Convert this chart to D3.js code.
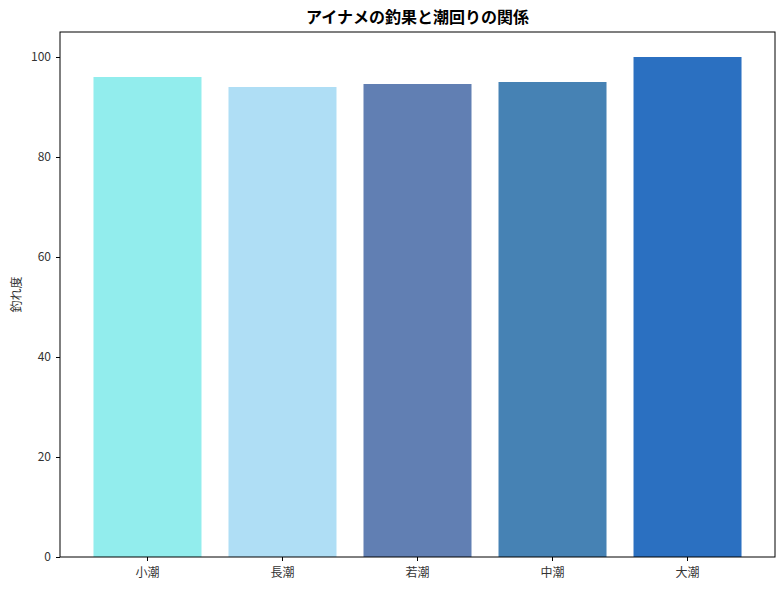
<!DOCTYPE html>
<html>
<head>
<meta charset="utf-8">
<script src="https://cdn.jsdelivr.net/npm/d3@7"></script>
<style>
  body { margin: 0; background: #fff; }
  text { font-family: "Noto Sans CJK JP", sans-serif; }
</style>
</head>
<body>
<div id="chart"></div>
<script>
// tide names and catch score
const tides = ["小潮", "長潮", "若潮", "中潮", "大潮"]
const scores = [96, 94, 94.6, 95, 100]
const barColors = ["#92EDED", "#AFDEF5", "#617FB3", "#4682B4", "#2B70C1"]
const yTicks = [0, 20, 40, 60, 80, 100]

const w = 784, h = 590
const margin = { top: 32, right: 9, bottom: 33, left: 60 }

const svg = d3.select("#chart").append("svg")
  .attr("width", w)
  .attr("height", h)

const x = d3.scaleBand()
  .domain(tides)
  .range([margin.left, w - margin.right])
  .paddingInner(0.2)
  .paddingOuter(0.248)

const y = d3.scaleLinear()
  .domain([0, 105])
  .range([h - margin.bottom, margin.top])

// bars
svg.append("g").selectAll("rect")
  .data(tides)
  .enter().append("rect")
  .attr("x", d => x(d))
  .attr("y", (d, i) => y(scores[i]))
  .attr("width", x.bandwidth())
  .attr("height", (d, i) => y(0) - y(scores[i]))
  .attr("fill", (d, i) => barColors[i])

// axes
const xAxis = svg.append("g")
  .attr("transform", "translate(0," + (h - margin.bottom) + ")")
  .call(d3.axisBottom(x).tickSize(4).tickPadding(7).tickSizeOuter(0))
const yAxis = svg.append("g")
  .attr("transform", "translate(" + margin.left + ",0)")
  .call(d3.axisLeft(y).tickValues(yTicks).tickSize(4).tickPadding(5).tickSizeOuter(0))

for (const g of [xAxis, yAxis]) {
  g.select(".domain").remove()
  g.selectAll("text").attr("font-size", 12).attr("fill", "#333")
    .style("font-family", "'Noto Sans CJK JP', sans-serif")
  g.selectAll("line").attr("stroke", "#000")
}

// frame
svg.append("rect")
  .attr("x", margin.left)
  .attr("y", margin.top)
  .attr("width", w - margin.left - margin.right)
  .attr("height", h - margin.top - margin.bottom)
  .attr("fill", "none")
  .attr("stroke", "#000")
  .attr("stroke-width", 1)

// title
svg.append("text")
  .attr("x", margin.left + (w - margin.left - margin.right) / 2)
  .attr("y", 23)
  .attr("text-anchor", "middle")
  .attr("font-size", 16)
  .attr("font-weight", "bold")
  .text("アイナメの釣果と潮回りの関係")

// y label
svg.append("text")
  .attr("transform", "translate(21," + ((margin.top + h - margin.bottom) / 2) + ") rotate(-90)")
  .attr("text-anchor", "middle")
  .attr("font-size", 12)
  .attr("fill", "#333")
  .text("釣れ度")
</script>
</body>
</html>
